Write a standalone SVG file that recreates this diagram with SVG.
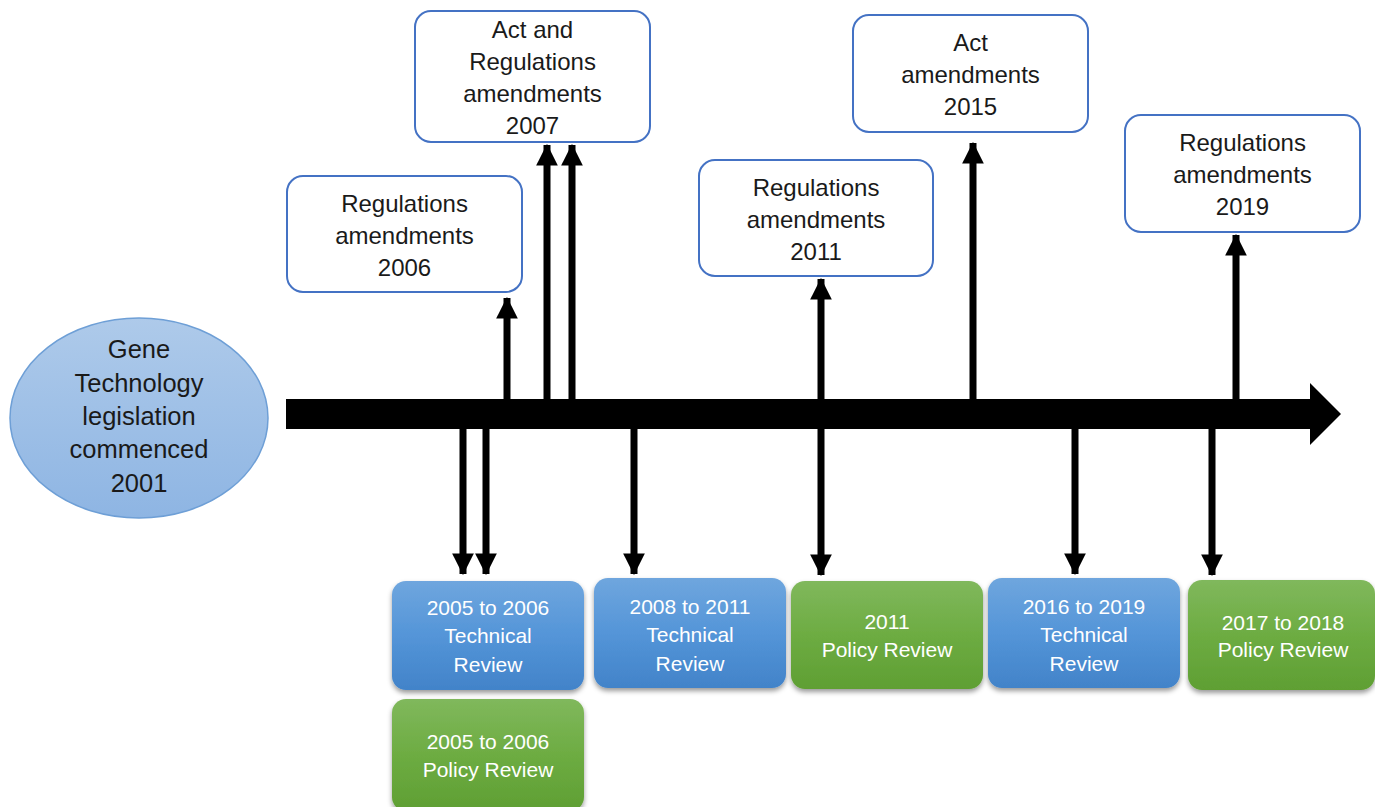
<svg xmlns="http://www.w3.org/2000/svg" width="1375" height="807" viewBox="0 0 1375 807">
<defs>
<linearGradient id="gBlue" x1="0" y1="0" x2="0" y2="1">
<stop offset="0" stop-color="#6FA6DE"/><stop offset="0.5" stop-color="#5495D8"/><stop offset="1" stop-color="#4283C9"/>
</linearGradient>
<linearGradient id="gGreen" x1="0" y1="0" x2="0" y2="1">
<stop offset="0" stop-color="#80B85C"/><stop offset="0.5" stop-color="#6DAC42"/><stop offset="1" stop-color="#5F9F33"/>
</linearGradient>
<linearGradient id="gEll" x1="0" y1="0" x2="0" y2="1">
<stop offset="0" stop-color="#AECAEA"/><stop offset="1" stop-color="#8EB5E3"/>
</linearGradient>
<filter id="sh" x="-10%" y="-10%" width="120%" height="130%">
<feDropShadow dx="0" dy="3" stdDeviation="2.5" flood-color="#000" flood-opacity="0.4"/>
</filter>
<marker id="ah" viewBox="0 0 10 10" refX="9.5" refY="5" markerWidth="3.1" markerHeight="3.1" markerUnits="strokeWidth" orient="auto">
<path d="M0,0 L10,5 L0,10 Z" fill="#000"/>
</marker>
<style>
.tb{fill:#fff;stroke:#4472C4;stroke-width:2}
.tt{font-family:"Liberation Sans",Arial,sans-serif;font-size:24px;fill:#1a1a1a;text-anchor:middle}
.bb{filter:url(#sh)}
.bt{font-family:"Liberation Sans",Arial,sans-serif;font-size:21px;fill:#fff;text-anchor:middle}
.et{font-family:"Liberation Sans",Arial,sans-serif;font-size:25.5px;fill:#1a1a1a;text-anchor:middle}
.c{stroke:#000;stroke-width:7;fill:none;marker-end:url(#ah)}
</style>
</defs>

<g id="start">
<ellipse cx="139" cy="418" rx="129" ry="100" fill="url(#gEll)" stroke="#6E9FD6" stroke-width="1.5"/>
<text class="et" x="139" y="358">Gene</text>
<text class="et" x="139" y="392">Technology</text>
<text class="et" x="139" y="425">legislation</text>
<text class="et" x="139" y="458">commenced</text>
<text class="et" x="139" y="492">2001</text>
</g>

<g id="timeline">
<polygon points="286,399 1310,399 1310,383 1341,414 1310,445 1310,429 286,429" fill="#000"/>
</g>

<g id="connectors">
<line class="c" x1="507" y1="400" x2="507" y2="298"/>
<line class="c" x1="547" y1="400" x2="547" y2="145"/>
<line class="c" x1="572" y1="400" x2="572" y2="145"/>
<line class="c" x1="821" y1="400" x2="821" y2="279"/>
<line class="c" x1="973" y1="400" x2="973" y2="143"/>
<line class="c" x1="1236" y1="400" x2="1236" y2="235"/>
<line class="c" x1="463" y1="428" x2="463" y2="574"/>
<line class="c" x1="486" y1="428" x2="486" y2="574"/>
<line class="c" x1="634" y1="428" x2="634" y2="574"/>
<line class="c" x1="821" y1="428" x2="821" y2="575"/>
<line class="c" x1="1075" y1="428" x2="1075" y2="574"/>
<line class="c" x1="1212" y1="428" x2="1212" y2="575"/>
</g>

<g id="reg2006">
<rect class="tb" x="287" y="176" width="235" height="116" rx="16"/>
<text class="tt" x="404.5" y="212">Regulations</text>
<text class="tt" x="404.5" y="244">amendments</text>
<text class="tt" x="404.5" y="276">2006</text>
</g>

<g id="act2007">
<rect class="tb" x="415" y="11" width="235" height="131" rx="16"/>
<text class="tt" x="532.5" y="38">Act and</text>
<text class="tt" x="532.5" y="70">Regulations</text>
<text class="tt" x="532.5" y="102">amendments</text>
<text class="tt" x="532.5" y="134">2007</text>
</g>

<g id="reg2011">
<rect class="tb" x="699" y="160" width="234" height="116" rx="16"/>
<text class="tt" x="816" y="196">Regulations</text>
<text class="tt" x="816" y="228">amendments</text>
<text class="tt" x="816" y="260">2011</text>
</g>

<g id="act2015">
<rect class="tb" x="853" y="15" width="235" height="117" rx="16"/>
<text class="tt" x="970.5" y="51">Act</text>
<text class="tt" x="970.5" y="83">amendments</text>
<text class="tt" x="970.5" y="115">2015</text>
</g>

<g id="reg2019">
<rect class="tb" x="1125" y="115" width="235" height="117" rx="16"/>
<text class="tt" x="1242.5" y="151">Regulations</text>
<text class="tt" x="1242.5" y="183">amendments</text>
<text class="tt" x="1242.5" y="215">2019</text>
</g>

<g id="tech2005">
<rect class="bb" x="392" y="581" width="192" height="109" rx="14" fill="url(#gBlue)"/>
<text class="bt" x="488" y="615">2005 to 2006</text>
<text class="bt" x="488" y="643">Technical</text>
<text class="bt" x="488" y="672">Review</text>
</g>

<g id="policy2005">
<rect class="bb" x="392" y="699" width="192" height="112" rx="14" fill="url(#gGreen)"/>
<text class="bt" x="488" y="749">2005 to 2006</text>
<text class="bt" x="488" y="777">Policy Review</text>
</g>

<g id="tech2008">
<rect class="bb" x="594" y="578" width="192" height="110" rx="14" fill="url(#gBlue)"/>
<text class="bt" x="690" y="614">2008 to 2011</text>
<text class="bt" x="690" y="642">Technical</text>
<text class="bt" x="690" y="671">Review</text>
</g>

<g id="policy2011">
<rect class="bb" x="791" y="581" width="192" height="108" rx="14" fill="url(#gGreen)"/>
<text class="bt" x="887" y="629">2011</text>
<text class="bt" x="887" y="657">Policy Review</text>
</g>

<g id="tech2016">
<rect class="bb" x="988" y="578" width="192" height="110" rx="14" fill="url(#gBlue)"/>
<text class="bt" x="1084" y="614">2016 to 2019</text>
<text class="bt" x="1084" y="642">Technical</text>
<text class="bt" x="1084" y="671">Review</text>
</g>

<g id="policy2017">
<rect class="bb" x="1188" y="580" width="187" height="110" rx="14" fill="url(#gGreen)"/>
<text class="bt" x="1283" y="630">2017 to 2018</text>
<text class="bt" x="1283" y="657">Policy Review</text>
</g>
</svg>
